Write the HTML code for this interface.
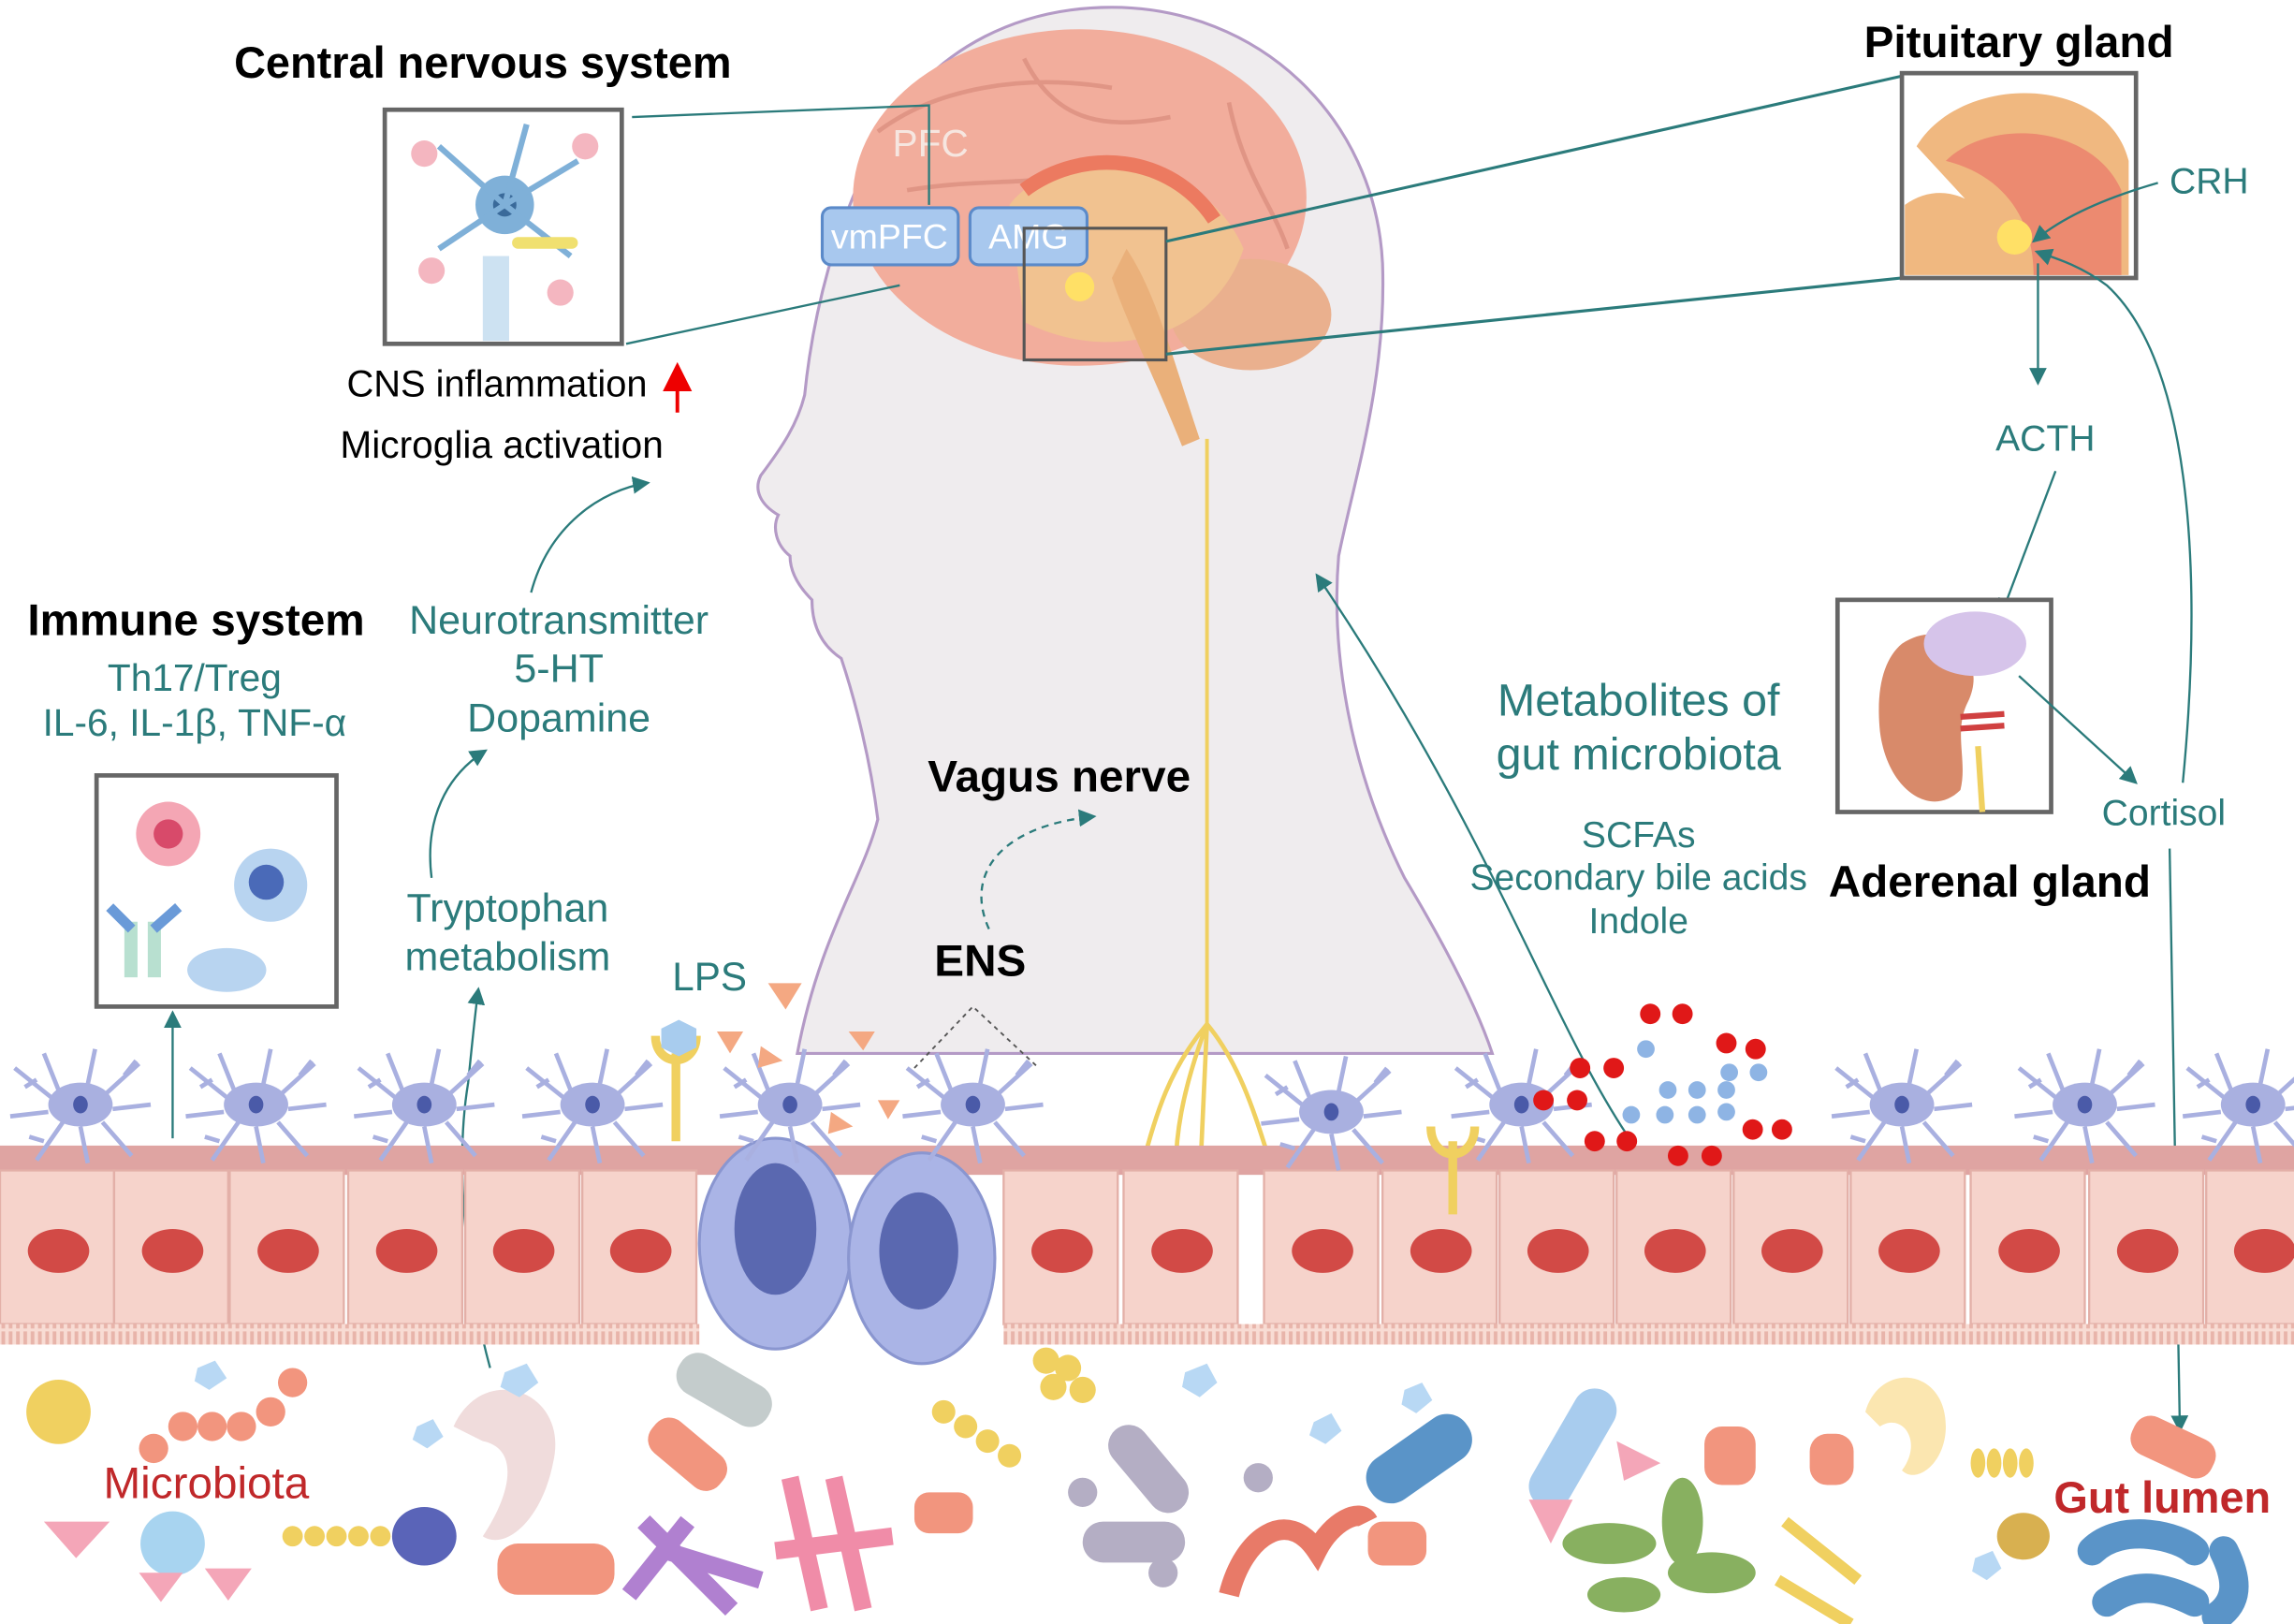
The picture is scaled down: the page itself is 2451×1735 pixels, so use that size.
<!DOCTYPE html>
<html><head><meta charset="utf-8"><style>
html,body{margin:0;padding:0;background:#fff;}
svg{display:block;}
text{font-family:"Liberation Sans",sans-serif;}
.t{fill:#2b7b7b;}
.b{font-weight:bold;fill:#000;}
</style></head><body>
<svg width="2451" height="1735" viewBox="0 0 1568 1110" preserveAspectRatio="none" xmlns="http://www.w3.org/2000/svg">
<defs>
<marker id="ar" markerWidth="8" markerHeight="8" refX="7" refY="4" orient="auto"><path d="M0,0 L8,4 L0,8 z" fill="#2b7b7b"/></marker>
<marker id="rr" markerWidth="8" markerHeight="8" refX="7" refY="4" orient="auto"><path d="M0,0 L8,4 L0,8 z" fill="#e00"/></marker>
<pattern id="mv" width="5" height="14" patternUnits="userSpaceOnUse"><rect width="5" height="14" fill="#f8dcd4"/><rect x="1" y="0" width="2.5" height="12" fill="#e8b4aa"/></pattern>
<g id="dc">
<ellipse cx="0" cy="0" rx="22" ry="15" fill="#a9b0e0"/>
<ellipse cx="0" cy="0" rx="5" ry="6" fill="#4a5aa8"/>
<path d="M-20,-5 L-45,-25 M-15,-10 L-25,-35 M5,-14 L10,-38 M18,-8 L40,-28 M22,3 L48,0 M15,12 L35,35 M0,15 L5,40 M-12,12 L-30,38 M-22,5 L-48,8 M-30,-17 L-38,-12 M30,-20 L38,-30 M-25,25 L-35,22" stroke="#a9b0e0" stroke-width="3" fill="none"/>
</g>
<g id="cell">
<rect x="0" y="800" width="78" height="105" fill="#f6d3cb" stroke="#e3b0a8" stroke-width="1.5"/>
<ellipse cx="40" cy="855" rx="21" ry="15" fill="#d24a46"/>
</g>
</defs>
<rect width="1568" height="1110" fill="#fff"/>
<!-- head -->
<path d="M545,720 C560,640 590,600 600,560 C595,520 585,480 575,450 C560,440 555,425 555,410 C545,400 540,390 540,380 C530,372 528,360 532,352 C520,345 515,335 520,325 C535,305 545,290 550,270 C555,220 570,150 605,90 C640,30 700,5 760,5 C860,5 940,80 945,180 C948,260 925,330 915,380 C910,440 920,520 960,600 C990,650 1010,690 1020,720 Z" fill="#efecee" stroke="#b49ac6" stroke-width="2"/>
<!-- brain -->
<ellipse cx="738" cy="135" rx="155" ry="115" fill="#f2ad9c"/>
<path d="M600,90 C640,60 700,50 760,60 M620,130 C680,120 720,130 760,110 M700,40 C720,80 750,90 800,80 M840,70 C850,120 870,140 880,170" stroke="#e09585" stroke-width="3" fill="none"/>
<ellipse cx="855" cy="215" rx="55" ry="38" fill="#eab08e"/>
<path d="M690,140 C720,100 820,100 850,170 C830,230 760,250 700,220 Z" fill="#f1c290"/>
<path d="M770,170 C790,200 800,240 820,300 L808,305 C790,260 770,220 760,190 Z" fill="#eab07a"/>
<path d="M700,130 C740,100 800,105 830,150" stroke="#ec7a60" stroke-width="10" fill="none"/>
<circle cx="738" cy="196" r="10" fill="#ffe066"/>
<text x="610" y="107" font-size="26" fill="#f6e6e0">PFC</text>
<rect x="562" y="142" width="93" height="39" rx="6" fill="#a8c8ee" stroke="#5b8ac9" stroke-width="2"/>
<text x="608" y="170" font-size="24" fill="#fff" text-anchor="middle">vmPFC</text>
<rect x="663" y="142" width="80" height="39" rx="6" fill="#a8c8ee" stroke="#5b8ac9" stroke-width="2"/>
<text x="703" y="170" font-size="24" fill="#fff" text-anchor="middle">AMG</text>
<rect x="700" y="156" width="97" height="90" fill="none" stroke="#555" stroke-width="2"/>
<!-- vagus -->
<line x1="825" y1="300" x2="825" y2="700" stroke="#f0d060" stroke-width="2.5"/>
<path d="M825,700 C800,730 790,760 780,800 M825,700 C850,730 860,770 870,800 M825,700 L820,810 M825,700 C810,740 800,780 805,820" stroke="#f0d060" stroke-width="3" fill="none"/>
<!-- zoom lines -->
<path d="M432,80 L635,72 L635,140 M428,235 L615,195" stroke="#2b7b7b" stroke-width="1.5" fill="none"/>
<path d="M797,165 L1300,52 M797,242 L1300,190" stroke="#2b7b7b" stroke-width="2" fill="none"/>
<!-- CNS box -->
<rect x="263" y="75" width="162" height="160" fill="#fff" stroke="#666" stroke-width="3"/>
<circle cx="345" cy="140" r="20" fill="#7fb0d8"/><circle cx="345" cy="140" r="8" fill="#3a6a9a"/>
<path d="M345,140 L300,100 M345,140 L360,85 M345,140 L395,110 M345,140 L300,170 M345,140 L390,175" stroke="#7fb0d8" stroke-width="4"/>
<rect x="330" y="175" width="18" height="58" fill="#cde2f2"/>
<circle cx="290" cy="105" r="9" fill="#f4b6c0"/><circle cx="400" cy="100" r="9" fill="#f4b6c0"/><circle cx="295" cy="185" r="9" fill="#f4b6c0"/><circle cx="383" cy="200" r="9" fill="#f4b6c0"/>
<rect x="350" y="162" width="45" height="8" rx="4" fill="#f0e070"/>
<text x="330" y="53" font-size="30" class="b" text-anchor="middle">Central nervous system</text>
<text x="237" y="271" font-size="25.5">CNS inflammation</text>
<line x1="463" y1="282" x2="463" y2="250" stroke="#e00" stroke-width="2.5" marker-end="url(#rr)"/>
<text x="343" y="313" font-size="26" text-anchor="middle">Microglia activation</text>
<!-- immune -->
<text x="134" y="434" font-size="30.5" class="b" text-anchor="middle">Immune system</text>
<text x="133" y="472" font-size="26" class="t" text-anchor="middle">Th17/Treg</text>
<text x="133" y="503" font-size="26" class="t" text-anchor="middle">IL-6, IL-1β, TNF-α</text>
<rect x="66" y="530" width="164" height="158" fill="#fff" stroke="#666" stroke-width="3"/>
<circle cx="115" cy="570" r="22" fill="#f4a6b4"/><circle cx="115" cy="570" r="10" fill="#d84a6a"/>
<circle cx="185" cy="605" r="25" fill="#b8d4f0"/><circle cx="182" cy="603" r="12" fill="#4a6ab8"/>
<ellipse cx="155" cy="663" rx="27" ry="15" fill="#b8d4f0"/>
<rect x="85" y="630" width="9" height="38" fill="#b8e0d0"/><rect x="101" y="630" width="9" height="38" fill="#b8e0d0"/>
<path d="M75,620 L90,635 M122,620 L105,635" stroke="#6a9ad8" stroke-width="7"/>
<line x1="118" y1="778" x2="118" y2="692" stroke="#2b7b7b" stroke-width="1.5" marker-end="url(#ar)"/>
<!-- neurotransmitter -->
<text x="382" y="433" font-size="27.5" class="t" text-anchor="middle">Neurotransmitter</text>
<text x="382" y="466" font-size="27.5" class="t" text-anchor="middle">5-HT</text>
<text x="382" y="500" font-size="27.5" class="t" text-anchor="middle">Dopamine</text>
<path d="M363,405 C375,360 410,335 443,330" stroke="#2b7b7b" stroke-width="1.5" fill="none" marker-end="url(#ar)"/>
<path d="M295,600 C290,560 305,530 332,513" stroke="#2b7b7b" stroke-width="1.5" fill="none" marker-end="url(#ar)"/>
<text x="347" y="630" font-size="27.5" class="t" text-anchor="middle">Tryptophan</text>
<text x="347" y="663" font-size="27.5" class="t" text-anchor="middle">metabolism</text>
<path d="M335,935 C320,880 310,800 320,740 C323,710 325,690 327,676" stroke="#2b7b7b" stroke-width="1.5" fill="none" marker-end="url(#ar)"/>
<text x="485" y="677" font-size="27" class="t" text-anchor="middle">LPS</text>
<text x="724" y="541" font-size="30.5" class="b" text-anchor="middle">Vagus nerve</text>
<path d="M676,635 C660,600 680,565 748,558" stroke="#2b7b7b" stroke-width="1.5" stroke-dasharray="5,4" fill="none" marker-end="url(#ar)"/>
<text x="670" y="667" font-size="30.5" class="b" text-anchor="middle">ENS</text>
<path d="M625,730 L665,688 L710,730" stroke="#555" stroke-width="1.2" stroke-dasharray="3,3" fill="none"/>
<!-- metabolites -->
<text x="1120" y="489" font-size="31" class="t" text-anchor="middle">Metabolites of</text>
<text x="1120" y="526" font-size="31" class="t" text-anchor="middle">gut microbiota</text>
<text x="1120" y="579" font-size="25" class="t" text-anchor="middle">SCFAs</text>
<text x="1120" y="608" font-size="25" class="t" text-anchor="middle">Secondary bile acids</text>
<text x="1120" y="638" font-size="25" class="t" text-anchor="middle">Indole</text>
<path d="M1115,780 C1060,700 1020,570 900,393" stroke="#2b7b7b" stroke-width="1.5" fill="none" marker-end="url(#ar)"/>
<!-- pituitary -->
<text x="1380" y="39" font-size="30.5" class="b" text-anchor="middle">Pituitary gland</text>
<rect x="1300" y="50" width="160" height="140" fill="#fff" stroke="#666" stroke-width="3"/>
<path d="M1310,100 C1340,50 1440,50 1455,110 L1455,188 L1302,188 L1302,140 C1330,120 1360,140 1370,165 Z" fill="#f0b880"/>
<path d="M1330,110 C1360,80 1430,85 1450,130 L1450,188 L1390,188 C1390,150 1370,120 1330,110 Z" fill="#ec8a70"/>
<circle cx="1377" cy="162" r="12" fill="#ffe066"/>
<text x="1510" y="132" font-size="25" class="t" text-anchor="middle">CRH</text>
<path d="M1475,125 C1440,135 1410,148 1390,165" stroke="#2b7b7b" stroke-width="1.5" fill="none" marker-end="url(#ar)"/>
<line x1="1393" y1="180" x2="1393" y2="262" stroke="#2b7b7b" stroke-width="1.5" marker-end="url(#ar)"/>
<text x="1398" y="308" font-size="25" class="t" text-anchor="middle">ACTH</text>
<line x1="1405" y1="322" x2="1368" y2="420" stroke="#2b7b7b" stroke-width="1.5" marker-end="url(#ar)"/>
<!-- adrenal -->
<rect x="1256" y="410" width="146" height="145" fill="#fff" stroke="#666" stroke-width="3"/>
<path d="M1300,440 C1330,420 1360,450 1345,480 C1335,500 1345,520 1340,540 C1320,560 1290,540 1285,500 C1282,470 1288,450 1300,440 Z" fill="#d88a6a"/>
<ellipse cx="1350" cy="440" rx="35" ry="22" fill="#d6c4ea"/>
<path d="M1340,490 L1370,488 M1340,498 L1370,496" stroke="#d04040" stroke-width="4"/>
<path d="M1352,510 L1355,555" stroke="#f0d060" stroke-width="4"/>
<text x="1360" y="613" font-size="30.5" class="b" text-anchor="middle">Aderenal gland</text>
<line x1="1380" y1="462" x2="1460" y2="535" stroke="#2b7b7b" stroke-width="1.5" marker-end="url(#ar)"/>
<text x="1479" y="564" font-size="25" class="t" text-anchor="middle">Cortisol</text>
<path d="M1492,535 C1505,400 1500,250 1440,195 C1420,180 1400,175 1392,172" stroke="#2b7b7b" stroke-width="1.5" fill="none" marker-end="url(#ar)"/>
<line x1="1483" y1="580" x2="1490" y2="978" stroke="#2b7b7b" stroke-width="1.5" marker-end="url(#ar)"/>
<!-- epithelium -->
<rect x="0" y="783" width="1568" height="20" fill="#dfa4a2"/>
<use href="#cell" x="0"/><use href="#cell" x="78"/><use href="#cell" x="157"/><use href="#cell" x="238"/><use href="#cell" x="318"/><use href="#cell" x="398"/>
<use href="#cell" x="686"/><use href="#cell" x="768"/><use href="#cell" x="864"/><use href="#cell" x="945"/><use href="#cell" x="1025"/><use href="#cell" x="1105"/><use href="#cell" x="1185"/><use href="#cell" x="1265"/><use href="#cell" x="1347"/><use href="#cell" x="1428"/><use href="#cell" x="1508"/>
<rect x="0" y="905" width="478" height="14" fill="url(#mv)"/><rect x="686" y="905" width="882" height="14" fill="url(#mv)"/>
<ellipse cx="530" cy="850" rx="52" ry="72" fill="#aab4e6" stroke="#8a96d0" stroke-width="2"/>
<ellipse cx="530" cy="840" rx="28" ry="45" fill="#5a68b0"/>
<ellipse cx="630" cy="860" rx="50" ry="72" fill="#aab4e6" stroke="#8a96d0" stroke-width="2"/>
<ellipse cx="628" cy="855" rx="27" ry="40" fill="#5a68b0"/>
<!-- dendritic cells -->
<use href="#dc" x="55" y="755"/><use href="#dc" x="175" y="755"/><use href="#dc" x="290" y="755"/><use href="#dc" x="405" y="755"/><use href="#dc" x="540" y="755"/><use href="#dc" x="665" y="755"/><use href="#dc" x="910" y="760"/><use href="#dc" x="1040" y="755"/><use href="#dc" x="1300" y="755"/><use href="#dc" x="1425" y="755"/><use href="#dc" x="1540" y="755"/>
<!-- receptors -->
<path d="M462,720 V780 M448,708 C448,730 476,730 476,708" stroke="#f0d060" stroke-width="6" fill="none"/>
<polygon points="452,703 464,697 476,703 476,716 464,722 452,716" fill="#a8ccee"/>
<path d="M993,780 V830 M978,770 C978,795 1008,795 1008,770" stroke="#f0d060" stroke-width="6" fill="none"/>
<!-- LPS triangles -->
<g fill="#f4a882">
<polygon points="525,672 548,672 537,690"/><polygon points="490,705 508,705 499,720"/><polygon points="520,715 535,725 518,730"/><polygon points="580,705 598,705 590,718"/><polygon points="600,752 615,752 607,765"/><polygon points="568,760 583,770 566,775"/>
</g>
<!-- metabolites dots -->
<g fill="#e01818">
<circle cx="1128" cy="693" r="7"/><circle cx="1150" cy="693" r="7"/><circle cx="1180" cy="713" r="7"/><circle cx="1200" cy="717" r="7"/><circle cx="1080" cy="730" r="7"/><circle cx="1103" cy="730" r="7"/><circle cx="1055" cy="752" r="7"/><circle cx="1078" cy="752" r="7"/><circle cx="1090" cy="780" r="7"/><circle cx="1112" cy="780" r="7"/><circle cx="1198" cy="772" r="7"/><circle cx="1218" cy="772" r="7"/><circle cx="1147" cy="790" r="7"/><circle cx="1170" cy="790" r="7"/>
</g>
<g fill="#8eb4e4">
<circle cx="1125" cy="717" r="6"/><circle cx="1182" cy="733" r="6"/><circle cx="1202" cy="733" r="6"/><circle cx="1140" cy="745" r="6"/><circle cx="1160" cy="745" r="6"/><circle cx="1180" cy="745" r="6"/><circle cx="1115" cy="762" r="6"/><circle cx="1138" cy="762" r="6"/><circle cx="1160" cy="762" r="6"/><circle cx="1180" cy="760" r="6"/>
</g>
<!-- microbiota -->
<circle cx="40" cy="965" r="22" fill="#f0d060"/>
<g fill="#f2957e"><circle cx="200" cy="945" r="10"/><circle cx="185" cy="965" r="10"/><circle cx="165" cy="975" r="10"/><circle cx="145" cy="975" r="10"/><circle cx="125" cy="975" r="10"/><circle cx="105" cy="990" r="10"/></g>
<polygon points="30,1040 75,1040 52,1065" fill="#f4a6b8"/>
<circle cx="118" cy="1055" r="22" fill="#a8d4f0"/>
<polygon points="95,1075 125,1075 110,1095" fill="#f4a6b8"/><polygon points="140,1072 172,1072 156,1094" fill="#f4a6b8"/>
<ellipse cx="290" cy="1050" rx="22" ry="20" fill="#5a64b8"/>
<g fill="#f0d060"><circle cx="200" cy="1050" r="7"/><circle cx="215" cy="1050" r="7"/><circle cx="230" cy="1050" r="7"/><circle cx="245" cy="1050" r="7"/><circle cx="260" cy="1050" r="7"/></g>
<path d="M310,975 C330,930 390,950 378,1000 C370,1040 345,1060 330,1050 C350,1020 355,990 330,985 Z" fill="#f0dcdc"/>
<rect x="340" y="1055" width="80" height="35" rx="14" fill="#f2957e"/>
<path d="M440,1040 L500,1100 M470,1040 L430,1090 M455,1060 L520,1080" stroke="#b080d0" stroke-width="12"/>
<path d="M540,1010 L560,1100 M570,1010 L590,1100 M530,1060 L610,1050" stroke="#f08ca8" stroke-width="12"/>
<rect x="440" y="980" width="60" height="28" rx="12" fill="#f2957e" transform="rotate(40 470 994)"/>
<rect x="460" y="935" width="70" height="30" rx="14" fill="#c4cccc" transform="rotate(30 495 950)"/>
<g fill="#f0d060"><circle cx="715" cy="930" r="9"/><circle cx="730" cy="935" r="9"/><circle cx="720" cy="948" r="9"/><circle cx="740" cy="950" r="9"/><circle cx="645" cy="965" r="8"/><circle cx="660" cy="975" r="8"/><circle cx="675" cy="985" r="8"/><circle cx="690" cy="995" r="8"/></g>
<rect x="625" y="1020" width="40" height="28" rx="10" fill="#f2957e"/>
<rect x="750" y="990" width="70" height="28" rx="14" fill="#b4aec4" transform="rotate(50 785 1004)"/>
<rect x="740" y="1040" width="70" height="28" rx="14" fill="#b4aec4"/>
<circle cx="740" cy="1020" r="10" fill="#b4aec4"/><circle cx="860" cy="1010" r="10" fill="#b4aec4"/><circle cx="795" cy="1075" r="10" fill="#b4aec4"/>
<path d="M840,1090 C850,1050 880,1030 900,1060 C910,1040 930,1030 935,1040" stroke="#e87a68" stroke-width="14" fill="none"/>
<rect x="930" y="980" width="80" height="34" rx="16" fill="#5a94c8" transform="rotate(-35 970 997)"/>
<rect x="1030" y="975" width="90" height="30" rx="15" fill="#a8ccee" transform="rotate(-60 1075 990)"/>
<polygon points="1105,985 1135,1000 1110,1012" fill="#f4a6b8"/>
<polygon points="1045,1025 1075,1025 1060,1055" fill="#f4a6b8"/>
<rect x="935" y="1040" width="40" height="30" rx="10" fill="#f2957e"/>
<ellipse cx="1100" cy="1055" rx="32" ry="14" fill="#88b060"/><ellipse cx="1150" cy="1040" rx="14" ry="30" fill="#88b060"/><ellipse cx="1170" cy="1075" rx="30" ry="14" fill="#88b060"/><ellipse cx="1110" cy="1090" rx="25" ry="12" fill="#88b060"/>
<rect x="1165" y="975" width="35" height="40" rx="12" fill="#f2957e"/><rect x="1237" y="980" width="30" height="35" rx="12" fill="#f2957e"/>
<path d="M1275,965 C1285,930 1330,935 1330,975 C1330,1000 1310,1015 1300,1005 C1315,985 1300,965 1285,975 Z" fill="#fbe6b0"/>
<path d="M1220,1040 L1270,1080 M1215,1080 L1265,1110" stroke="#f0d060" stroke-width="8"/>
<g fill="#f0d060"><ellipse cx="1352" cy="1000" rx="5" ry="10"/><ellipse cx="1363" cy="1000" rx="5" ry="10"/><ellipse cx="1374" cy="1000" rx="5" ry="10"/><ellipse cx="1385" cy="1000" rx="5" ry="10"/></g>
<rect x="1455" y="975" width="60" height="28" rx="12" fill="#f2957e" transform="rotate(25 1485 990)"/>
<ellipse cx="1383" cy="1050" rx="18" ry="16" fill="#d8b050"/>
<path d="M1430,1060 C1450,1040 1490,1050 1500,1060 M1440,1095 C1460,1080 1480,1085 1500,1095 M1520,1060 C1530,1080 1530,1095 1515,1105" stroke="#5a94c8" stroke-width="20" stroke-linecap="round" fill="none"/>
<g fill="#b8d8f4"><polygon points="135,935 147,930 155,942 143,950 133,944"/><polygon points="345,938 360,932 368,945 355,955 342,948"/><polygon points="810,938 825,932 832,945 820,955 808,948"/><polygon points="285,975 296,970 303,982 292,990 282,984"/><polygon points="898,972 910,966 917,978 906,987 895,981"/><polygon points="960,950 972,945 979,957 968,966 958,960"/><polygon points="1350,1065 1362,1060 1368,1072 1358,1080 1348,1074"/></g>
<text x="141" y="1024" font-size="30.5" fill="#c0282a" text-anchor="middle">Microbiota</text>
<text x="1478" y="1034" font-size="30" font-weight="bold" fill="#c0282a" text-anchor="middle">Gut lumen</text>
</svg>
</body></html>
